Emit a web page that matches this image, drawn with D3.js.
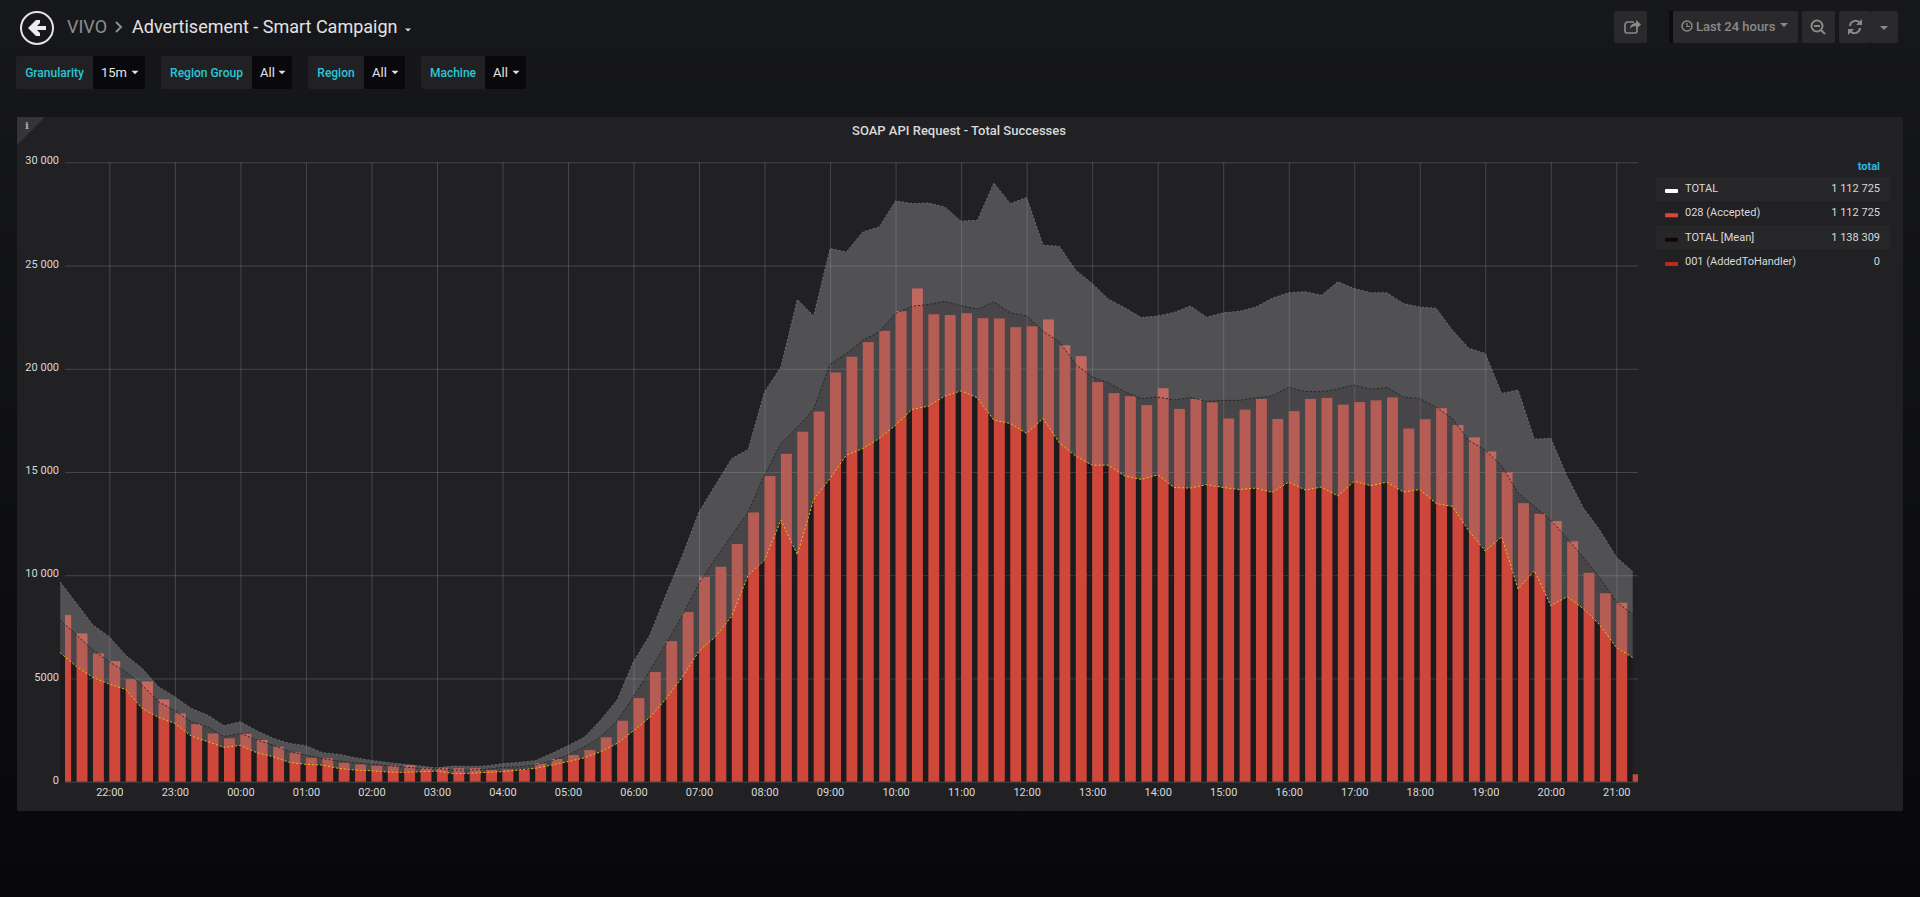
<!DOCTYPE html>
<html>
<head>
<meta charset="utf-8">
<script src="https://cdnjs.cloudflare.com/ajax/libs/d3/7.8.5/d3.min.js"></script>
<style>
  html, body { margin: 0; padding: 0; overflow: hidden; background: #0b0b0d; }
  svg { display: block; font-family: Roboto, sans-serif; }
</style>
</head>
<body>
<div id="chart"></div>
<script>
// 15 minute buckets, first one at 21:15 the day before
var startTime = "2018-06-01T21:15:00Z";
var bucketMinutes = 15;

var accepted = [8070,7180,6210,5840,4970,4860,3990,3310,2790,2340,2100,2310,2020,1695,1420,1160,1130,920,840,775,775,805,680,680,650,650,565,597,
    565,890,1100,1290,1530,2150,2950,4050,5310,6810,8215,9925,10410,11510,13040,14800,15880,16950,17930,19820,20580,21290,21840,22790,23890,22640,22600,22690,22450,22435,22015,22060,22390,21140,20610,19350,18820,18670,18240,
    19060,18055,18540,18370,17590,18020,18540,17570,17950,18540,18590,18265,18385,18470,18610,17105,17555,18090,17280,16675,15995,14990,13490,12970,12625,11640,10115,9130,8665,360];

var lower = [6246,5570,5050,4730,4470,3550,3115,2825,2210,1940,1660,1760,1405,1210,935,840,805,645,565,530,470,450,485,515,390,405,450,485,
    565,645,805,970,1160,1450,1855,2470,3115,4035,5085,6325,7020,8020,10005,10730,12670,11000,13670,14690,15820,16140,16620,17270,18030,18190,18675,18930,18590,17510,17350,16870,17590,16410,15770,15330,15330,14800,14640,
    14860,14250,14220,14390,14250,14150,14220,14010,14510,14130,14270,13840,14550,14340,14510,14030,14150,13475,13335,12140,11170,11865,9340,10220,8525,8960,8370,7590,6500,6015];

var mean = [7830,7100,6375,5810,5325,4680,3875,3440,2905,2660,2180,2340,2020,1775,1450,1290,1115,1000,920,840,775,710,645,645,565,565,597,695,
    725,805,1015,1290,1695,2180,2940,4115,5375,6700,8070,9600,10815,11940,13070,14850,16380,17160,18030,20220,20740,21385,21790,22680,23030,23110,23270,23050,22890,23240,22710,22560,21820,21305,20210,19610,19320,18880,18560,
    18630,18490,18610,18420,18470,18470,18590,18690,19110,18900,18885,19020,19210,19010,19095,18630,18560,18140,17590,16530,16065,15305,13990,13335,12660,11795,10845,9875,8715,8110];

var upper = [9670,8635,7585,7020,6130,5490,4600,4115,3550,3230,2710,2905,2470,2100,1855,1745,1405,1325,1160,1030,935,840,760,660,760,740,760,870,
    936,1015,1370,1745,2150,2985,3955,5810,7100,9090,10975,13070,14365,15655,16090,18880,20090,23350,22560,25820,25660,26630,26870,28130,28000,28030,27840,27150,27195,29000,28000,28290,25985,25935,24775,24130,23370,22950,22480,
    22555,22730,23040,22500,22710,22780,22990,23420,23680,23730,23560,24215,23885,23680,23680,23160,22990,22930,21860,20995,20735,18800,18970,16585,16640,14770,13250,12175,10880,10185];

var yTicks = [0, 5000, 10000, 15000, 20000, 25000, 30000];
var yLabels = ["0", "5000", "10 000", "15 000", "20 000", "25 000", "30 000"];

var legendNames = ["TOTAL", "028 (Accepted)", "TOTAL [Mean]", "001 (AddedToHandler)"];
var legendTotals = ["1 112 725", "1 112 725", "1 138 309", "0"];
var legendColors = ["#ffffff", "#e0453c", "#160404", "#bf2a1e"];

var variableNames = ["Granularity", "Region Group", "Region", "Machine"];
var variableValues = ["15m", "All", "All", "All"];

function caret(g, cx, cy, size, color) {
    g.append("path")
        .attr("d", "M" + (cx - size) + "," + (cy - size / 2) + "h" + (2 * size) + "l" + (-size) + "," + size + "z")
        .attr("fill", color);
}

function init() {
    var w = 1920, h = 897;

    var svg = d3.select("#chart").append("svg")
        .attr("width", w)
        .attr("height", h);

    var defs = svg.append("defs");
    var grad = defs.append("linearGradient").attr("id", "pageBg")
        .attr("x1", 0).attr("y1", 0).attr("x2", 0).attr("y2", 1);
    grad.append("stop").attr("offset", "0%").attr("stop-color", "#17181b");
    grad.append("stop").attr("offset", "100%").attr("stop-color", "#08080a");

    defs.append("clipPath").attr("id", "plotClip")
        .append("rect").attr("x", 65).attr("y", 150).attr("width", 1573).attr("height", 640);

    svg.append("rect").attr("width", w).attr("height", h).attr("fill", "url(#pageBg)");

    drawHeader(svg);
    drawVariables(svg);

    // panel
    svg.append("rect")
        .attr("x", 17).attr("y", 117).attr("width", 1886).attr("height", 694)
        .attr("rx", 2).attr("fill", "#212124");
    svg.append("path").attr("d", "M17,117h28l-28,28z").attr("fill", "#34343a");
    svg.append("text").attr("x", 25).attr("y", 129)
        .attr("font-family", "DejaVu Serif").attr("font-weight", "bold")
        .attr("font-size", 10).attr("fill", "#b0b0b0").text("i");
    svg.append("text").attr("x", 959).attr("y", 135)
        .attr("text-anchor", "middle").attr("font-size", 13).attr("font-weight", 500)
        .attr("fill", "#d8d9da").text("SOAP API Request - Total Successes");

    // scales
    var t0 = new Date(startTime);
    var times = accepted.map(function(d, i) { return d3.utcMinute.offset(t0, i * bucketMinutes); });

    var x = d3.scaleUtc()
        .domain([times[0], times[times.length - 1]])
        .range([60.2, 1632.7]);
    var y = d3.scaleLinear().domain([0, 30000]).range([781.7, 162.3]);

    // grid + axes
    var xAxis = d3.axisBottom(x)
        .ticks(d3.utcHour.every(1))
        .tickFormat(d3.utcFormat("%H:%M"))
        .tickSize(-(781.7 - 162.3))
        .tickPadding(7);
    var yAxis = d3.axisLeft(y)
        .tickValues(yTicks)
        .tickFormat(function(d, i) { return yLabels[i]; })
        .tickSize(0)
        .tickPadding(6);

    var gx = svg.append("g").attr("transform", "translate(0,781.7)").call(xAxis);
    var gy = svg.append("g").attr("transform", "translate(65,0)").call(yAxis);
    gy.selectAll(".tick").append("line")
        .attr("x1", 0).attr("x2", 1573);

    [gx, gy].forEach(function(g) {
        g.select(".domain").remove();
        g.selectAll(".tick line").attr("stroke", "#fff").attr("stroke-opacity", 0.17);
        g.selectAll(".tick text").attr("fill", "#d8d9da").attr("font-size", 11)
            .attr("font-family", "Roboto, sans-serif");
    });
    gy.selectAll(".tick text").attr("dy", "0.15em");

    function areaBetween(a, b) {
        return d3.area()
            .x(function(d, i) { return x(times[i]); })
            .y0(function(d, i) { return y(a[i]); })
            .y1(function(d, i) { return y(b[i]); })(accepted);
    }
    function lineOf(a) {
        return d3.line()
            .x(function(d, i) { return x(times[i]); })
            .y(function(d) { return y(d); })(a);
    }

    // darker floor under the lower bound, sits behind the bars
    var zeros = accepted.map(function() { return 0; });
    svg.append("path").attr("d", areaBetween(zeros, lower)).attr("fill", "#000").attr("fill-opacity", 0.18);

    // bars
    svg.append("g").attr("clip-path", "url(#plotClip)")
        .selectAll("rect")
        .data(accepted)
        .enter()
        .append("rect")
        .attr("x", function(d, i) { return x(times[i]); })
        .attr("y", function(d) { return y(d); })
        .attr("width", function(d, i) { return x(d3.utcMinute.offset(times[i], 10)) - x(times[i]); })
        .attr("height", function(d) { return y(0) - y(d); })
        .attr("fill", "#cf463a");

    // band
    svg.append("path").attr("d", areaBetween(mean, upper))
        .attr("fill", "rgb(172,168,172)").attr("fill-opacity", 0.35);
    svg.append("path").attr("d", areaBetween(lower, mean))
        .attr("fill", "rgb(138,134,134)").attr("fill-opacity", 0.37);

    var lines = [[upper, "#6f6f70"], [mean, "#262626"], [lower, "#e6c313"]];
    lines.forEach(function(l) {
        svg.append("path").attr("d", lineOf(l[0]))
            .attr("fill", "none").attr("stroke", l[1])
            .attr("stroke-width", 1).attr("stroke-dasharray", "2 2");
    });

    drawLegend(svg);
}

function drawLegend(svg) {
    var rowY = d3.scalePoint().domain(d3.range(legendNames.length)).range([189, 262]);

    svg.append("text").attr("x", 1880).attr("y", 170)
        .attr("text-anchor", "end").attr("font-size", 11).attr("font-weight", "bold")
        .attr("fill", "#33b5e5").text("total");

    var rows = svg.selectAll(".legendRow")
        .data(legendNames)
        .enter()
        .append("g")
        .attr("class", "legendRow")
        .attr("transform", function(d, i) { return "translate(0," + rowY(i) + ")"; });

    rows.filter(function(d, i) { return i % 2 === 0; })
        .append("rect")
        .attr("x", 1656).attr("y", -12).attr("width", 234).attr("height", 24)
        .attr("fill", "#27272a");
    rows.append("rect")
        .attr("x", 1665).attr("y", 0).attr("width", 13).attr("height", 4).attr("rx", 1)
        .attr("fill", function(d, i) { return legendColors[i]; });
    rows.append("text")
        .attr("x", 1685).attr("y", 3).attr("font-size", 11)
        .attr("fill", "#d8d9da").text(function(d) { return d; });
    rows.append("text")
        .attr("x", 1880).attr("y", 3).attr("font-size", 11).attr("text-anchor", "end")
        .attr("fill", "#d8d9da").text(function(d, i) { return legendTotals[i]; });
}

function drawHeader(svg) {
    var g = svg.append("g");

    // back button
    g.append("circle").attr("cx", 37).attr("cy", 28).attr("r", 16)
        .attr("fill", "none").attr("stroke", "#e3e3e3").attr("stroke-width", 2);
    g.append("path").attr("d", "M28,28l8,-8h4v3l-3,3h9v4h-9l3,3v3h-4z").attr("fill", "#ececec");

    g.append("text").attr("x", 67).attr("y", 33).attr("font-size", 18).attr("fill", "#8e8e8e").text("VIVO");
    g.append("path").attr("d", "M116,22l5,5l-5,5").attr("fill", "none").attr("stroke", "#8e8e8e").attr("stroke-width", 2);
    g.append("text").attr("x", 132).attr("y", 33).attr("font-size", 18).attr("fill", "#e3e3e3")
        .text("Advertisement - Smart Campaign");
    caret(g, 408, 30, 3, "#d8d9da");

    // toolbar buttons
    var boxes = [[1614, 33], [1673, 125], [1802, 33], [1839, 31], [1870, 28]];
    g.append("rect").attr("x", 1669).attr("y", 11).attr("width", 4).attr("height", 32).attr("fill", "#0b0c0e");
    boxes.forEach(function(b) {
        g.append("rect").attr("x", b[0]).attr("y", 11).attr("width", b[1]).attr("height", 32)
            .attr("rx", 2).attr("fill", "#2a2a2d");
    });

    var iconColor = "#8a8a8a";
    // share
    g.append("path").attr("d", "M1634,22h-6a3,3 0 0 0 -3,3v6a2,2 0 0 0 2,2h8a2,2 0 0 0 2,-2v-3")
        .attr("fill", "none").attr("stroke", iconColor).attr("stroke-width", 1.6);
    g.append("path").attr("d", "M1630,29c0,-4 3,-6 6,-6v-3l5,4.500l-5,4.500v-3c-3,0 -5,1 -6,3z").attr("fill", iconColor);
    // clock
    g.append("circle").attr("cx", 1687).attr("cy", 26).attr("r", 5).attr("fill", "none")
        .attr("stroke", iconColor).attr("stroke-width", 1.5);
    g.append("path").attr("d", "M1687,23v3.500h3").attr("fill", "none").attr("stroke", iconColor).attr("stroke-width", 1.2);
    g.append("text").attr("x", 1696).attr("y", 31).attr("font-size", 13).attr("font-weight", 500)
        .attr("fill", iconColor).text("Last 24 hours");
    caret(g, 1784, 25, 4, iconColor);
    // zoom out
    g.append("circle").attr("cx", 1817).attr("cy", 26).attr("r", 5.500).attr("fill", "none")
        .attr("stroke", iconColor).attr("stroke-width", 2);
    g.append("path").attr("d", "M1814,26h6M1821,30l4,4").attr("stroke", iconColor).attr("stroke-width", 2).attr("fill", "none");
    // refresh
    g.append("path").attr("d", "M1850,26a5.500,5.500 0 0 1 9.500,-3.500M1860,28a5.500,5.500 0 0 1 -9.500,3.500")
        .attr("fill", "none").attr("stroke", iconColor).attr("stroke-width", 2);
    g.append("path").attr("d", "M1862,19v6h-6zM1848,35v-6h6z").attr("fill", iconColor);
    caret(g, 1884, 28, 4, iconColor);
}

function drawVariables(svg) {
    var boxes = [[16, 77, 52], [161, 91, 40], [308, 56, 41], [421, 64, 41]];

    var groups = svg.selectAll(".variable")
        .data(variableNames)
        .enter()
        .append("g")
        .attr("class", "variable");

    groups.append("rect")
        .attr("x", function(d, i) { return boxes[i][0]; })
        .attr("y", 56).attr("height", 33).attr("rx", 2)
        .attr("width", function(d, i) { return boxes[i][1] + boxes[i][2]; })
        .attr("fill", "#212124");
    groups.append("rect")
        .attr("x", function(d, i) { return boxes[i][0] + boxes[i][1]; })
        .attr("y", 56).attr("height", 33).attr("rx", 2)
        .attr("width", function(d, i) { return boxes[i][2]; })
        .attr("fill", "#09090b");
    groups.append("text")
        .attr("x", function(d, i) { return boxes[i][0] + boxes[i][1] / 2; })
        .attr("y", 77).attr("text-anchor", "middle")
        .attr("font-size", 12).attr("font-weight", 500)
        .attr("fill", "#2bc6d6").text(function(d) { return d; });
    groups.append("text")
        .attr("x", function(d, i) { return boxes[i][0] + boxes[i][1] + 8; })
        .attr("y", 77).attr("font-size", 13)
        .attr("fill", "#e3e3e3").text(function(d, i) { return variableValues[i]; });
    groups.each(function(d, i) {
        caret(d3.select(this), boxes[i][0] + boxes[i][1] + boxes[i][2] - 10, 72.5, 3.500, "#e3e3e3");
    });
}

window.onload = init;
</script>
</body>
</html>
